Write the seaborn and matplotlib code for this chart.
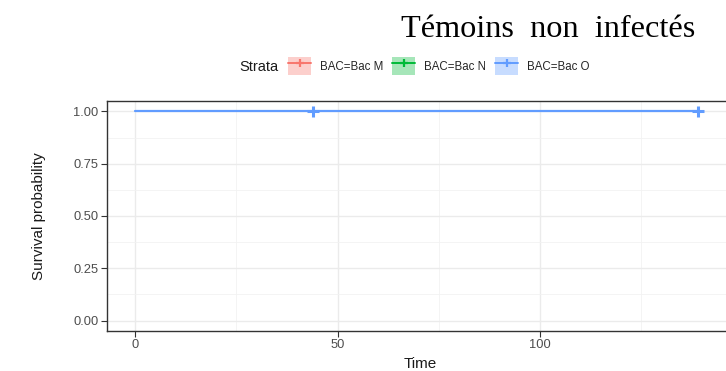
import matplotlib
matplotlib.use("Agg")
import matplotlib.pyplot as plt
import seaborn as sns
import pandas as pd
from matplotlib.patches import Patch
from matplotlib.lines import Line2D
from matplotlib.legend_handler import HandlerTuple

# ---- data ----
strata = ["BAC=Bac M", "BAC=Bac N", "BAC=Bac O"]
colors = ["#F8766D", "#00BA38", "#619CFF"]
time_O = [0, 44, 139]
surv_O = [1.0, 1.0, 1.0]
censor_time_O = [44, 139]
censor_surv_O = [1.0, 1.0]
x_ticks = [0, 50, 100]
y_ticks = [0.00, 0.25, 0.50, 0.75, 1.00]
y_tick_labels = ["0.00", "0.25", "0.50", "0.75", "1.00"]
title = "Témoins  non  infectés"

sns.set_theme(style="white")
plt.rcParams["font.family"] = ["Liberation Sans", "DejaVu Sans"]

fig = plt.figure(figsize=(7.26, 3.71), dpi=100)
W, H = 726, 371
left, right, top, bottom = 107, 733, 101, 331
ax = fig.add_axes([left / W, 1 - bottom / H, (right - left) / W, (bottom - top) / H])

df = pd.DataFrame({"Time": time_O, "surv": surv_O, "strata": strata[2]})
sns.lineplot(data=df, x="Time", y="surv", hue="strata", palette={strata[2]: colors[2]},
             drawstyle="steps-post", linewidth=1.6, ax=ax, legend=False, zorder=3)
cf = pd.DataFrame({"Time": censor_time_O, "surv": censor_surv_O, "strata": strata[2]})
sns.scatterplot(data=cf, x="Time", y="surv", hue="strata", palette={strata[2]: colors[2]},
                marker="+", s=70, linewidth=2.2, ax=ax, legend=False, zorder=4)

ax.set_xlim(-6.9, 147.6)
ax.set_ylim(-0.05, 1.05)
ax.set_xticks(x_ticks)
ax.set_xticklabels([str(t) for t in x_ticks])
ax.set_yticks(y_ticks)
ax.set_yticklabels(y_tick_labels)
ax.set_xticks([25, 75, 125], minor=True)
ax.set_yticks([0.125, 0.375, 0.625, 0.875], minor=True)
ax.grid(which="major", color="#EBEBEB", linewidth=1.0, zorder=0)
ax.grid(which="minor", color="#F2F2F2", linewidth=0.6, zorder=0)
ax.set_axisbelow(True)
for s in ax.spines.values():
    s.set_color("#333333")
    s.set_linewidth(1.0)
ax.tick_params(which="major", direction="out", length=4, width=0.8, color="#333333",
               labelsize=9.3, labelcolor="#4D4D4D", pad=2, left=True, bottom=True)
ax.tick_params(which="minor", length=0)
ax.set_xlabel("Time", fontsize=11, color="#1A1A1A", labelpad=4)
ax.set_ylabel("Survival probability", fontsize=11, color="#1A1A1A", labelpad=20)

# legend
handles = []
for c in colors:
    handles.append((Patch(facecolor=c, alpha=0.35, edgecolor="none"),
                    Line2D([], [], color=c, linewidth=1.4, marker="+", markersize=6, mew=1.6)))
fig.text(239 / W, 1 - 67 / H, "Strata", fontsize=10.5, color="#1A1A1A", va="center", ha="left")
fig.legend(handles, strata, handler_map={tuple: HandlerTuple(ndivide=1, pad=0)},
           loc="center left", bbox_to_anchor=(288 / W, 1 - 66 / H), ncol=3,
           frameon=False, fontsize=8.3, borderpad=0, borderaxespad=0,
           handlelength=2.0, handleheight=2.0, handletextpad=0.75, columnspacing=0.8)

fig.text(401 / W, 1 - 37 / H, title, fontsize=23.2, family=["Liberation Serif", "DejaVu Serif"],
         ha="left", va="baseline", color="black")

fig.savefig("out.png", dpi=100)
